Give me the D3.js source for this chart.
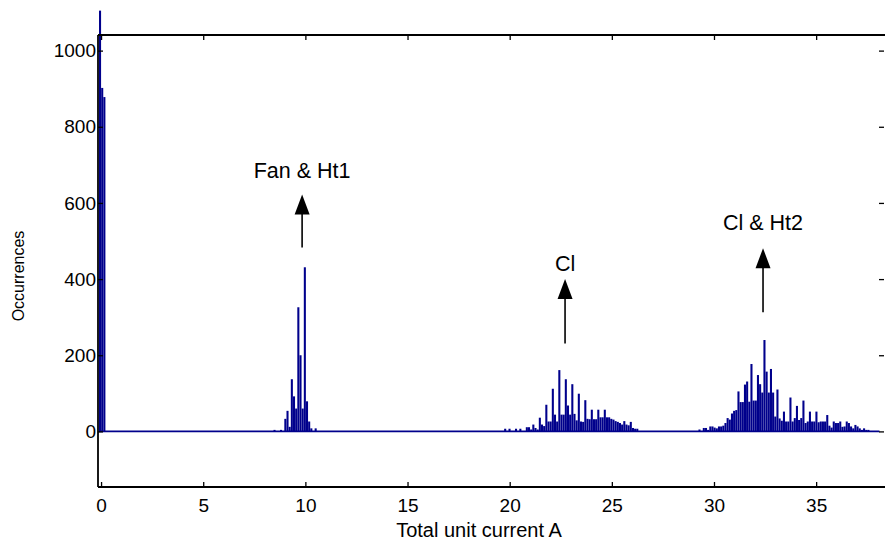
<!DOCTYPE html>
<html>
<head>
<meta charset="utf-8">
<script src="https://cdn.jsdelivr.net/npm/d3@7"></script>
<style>
  html, body { margin: 0; padding: 0; background: #fff; }
  svg { display: block; }
  text { font-family: Arial, "Liberation Sans", Helvetica, sans-serif; fill: #000; }
</style>
</head>
<body>
<svg id="chart" width="885" height="542"></svg>
<script>
// Histogram of total unit current (A): bin width and counts per cluster.
const binWidth = 0.106;

// Idle bins around 0 A
const idleStart = -0.05;
const idleCounts = [1105, 902, 878];

// Fan & heater 1 cluster
const fanStart = 8.49;
const fanCounts = [4, 0, 0, 4, 0, 33, 54, 12, 137, 92, 60, 326, 200, 60, 431, 79, 26, 8, 0, 8];

// Cl cluster
const clStart = 19.78;
const clCounts = [
  7, 0, 7, 0, 0, 7, 0, 7, 0, 0, 11, 11, 5, 18, 9, 5, 36, 18, 14, 70,
  26, 26, 112, 44, 26, 161, 44, 44, 137, 68, 44, 124, 46, 29, 99, 26, 25, 82, 33, 32,
  57, 32, 32, 57, 37, 37, 57, 37, 37, 33, 31, 27, 25, 22, 18, 27, 18, 16, 25, 9,
  7, 7
];

// Cl & heater 2 cluster
const cl2Start = 29.29;
const cl2Counts = [
  5, 0, 9, 9, 4, 13, 13, 10, 8, 13, 13, 15, 22, 35, 31, 47, 54, 56, 105, 77,
  77, 123, 131, 78, 177, 81, 81, 148, 124, 102, 240, 157, 102, 164, 102, 39, 110, 34, 28, 52,
  26, 26, 89, 26, 35, 67, 30, 35, 81, 22, 26, 52, 26, 26, 52, 24, 26, 26, 26, 43,
  15, 10, 26, 22, 22, 26, 12, 13, 26, 22, 13, 8, 17, 13, 8, 4, 8, 4, 4
];

// Axis ticks
const xTicks = [0, 5, 10, 15, 20, 25, 30, 35];
const yTicks = [0, 200, 400, 600, 800, 1000];

// Annotations: label, x position (A), arrow tail and tip (counts), label baseline (counts)
const noteLabels = ["Fan & Ht1", "Cl", "Cl & Ht2"];
const noteX = [9.84, 22.71, 32.4];
const noteTail = [483, 231, 313];
const noteTip = [622, 400, 481];
const noteText = [665, 421, 528];

const svg = d3.select("#chart");
const padL = 98, padR = 885, padT = 35, padB = 487;

const x = d3.scaleLinear().domain([-0.15, 38.37]).range([padL, padR]);
const y = d3.scaleLinear().domain([-146, 1041]).range([padB, padT]);

const barColor = "#00008c";

function bins(start, counts) {
  return counts.map((c, i) => ({ x: start + i * binWidth, v: c })).filter(d => d.v > 0);
}
const allBins = [].concat(
  bins(idleStart, idleCounts),
  bins(fanStart, fanCounts),
  bins(clStart, clCounts),
  bins(cl2Start, cl2Counts)
);

// zero-count baseline drawn by the histogram outline
svg.append("line")
  .attr("x1", x(-0.1)).attr("x2", x(38.1))
  .attr("y1", y(0)).attr("y2", y(0))
  .attr("stroke", barColor).attr("stroke-width", 1.8);

const bw = x(binWidth) - x(0);
svg.append("g").selectAll("rect")
  .data(allBins)
  .join("rect")
  .attr("x", d => x(d.x - binWidth / 2) + 0.05)
  .attr("width", bw - 0.1)
  .attr("y", d => y(d.v))
  .attr("height", d => y(0) - y(d.v))
  .attr("fill", barColor);

// Axes box
const axisColor = "#000";
const bottomAxis = d3.axisBottom(x).tickValues(xTicks).tickSize(-5).tickPadding(12).tickFormat(d3.format("d"));
const leftAxis = d3.axisLeft(y).tickValues(yTicks).tickSize(-5).tickPadding(2).tickFormat(d3.format("d"));
const topAxis = d3.axisTop(x).tickValues(xTicks).tickSize(-5).tickFormat("");
const rightAxis = d3.axisRight(y).tickValues(yTicks).tickSize(-5).tickFormat("");

function styleAxis(g) {
  g.select(".domain").remove();
  g.selectAll(".tick line").attr("stroke", axisColor).attr("stroke-width", 1.3);
  g.selectAll("text").attr("font-size", 19).attr("fill", "#000")
    .attr("font-family", "Arial, 'Liberation Sans', sans-serif");
}

svg.append("g").attr("transform", `translate(0,${padB})`).call(bottomAxis).call(styleAxis);
svg.append("g").attr("transform", `translate(${padL},0)`).call(leftAxis).call(styleAxis);
svg.append("g").attr("transform", `translate(0,${padT})`).call(topAxis).call(styleAxis);
svg.append("g").attr("transform", `translate(${padR - 1},0)`).call(rightAxis).call(styleAxis);

// box lines
svg.append("line").attr("x1", padL).attr("x2", padR).attr("y1", padT).attr("y2", padT)
  .attr("stroke", axisColor).attr("stroke-width", 1.8);
svg.append("line").attr("x1", padL).attr("x2", padR).attr("y1", padB).attr("y2", padB)
  .attr("stroke", axisColor).attr("stroke-width", 1.8);
svg.append("line").attr("x1", padL).attr("x2", padL).attr("y1", padT).attr("y2", padB)
  .attr("stroke", axisColor).attr("stroke-width", 1.8);

// Axis titles
svg.append("text")
  .attr("x", 479).attr("y", 537)
  .attr("text-anchor", "middle").attr("font-size", 20)
  .text("Total unit current A");
svg.append("text")
  .attr("transform", `translate(24,276) rotate(-90)`)
  .attr("text-anchor", "middle").attr("font-size", 16)
  .text("Occurrences");

// Annotations with arrows
const notes = noteLabels.map((t, i) => ({ t, x: noteX[i], tail: noteTail[i], tip: noteTip[i], ty: noteText[i] }));
const ng = svg.append("g").selectAll("g").data(notes).join("g");
ng.append("line")
  .attr("x1", d => x(d.x)).attr("x2", d => x(d.x))
  .attr("y1", d => y(d.tail)).attr("y2", d => y(d.tip) + 18)
  .attr("stroke", "#000").attr("stroke-width", 1.6);
ng.append("path")
  .attr("d", d => {
    const px = x(d.x), py = y(d.tip);
    return `M${px},${py} L${px - 7.5},${py + 20} L${px + 7.5},${py + 20} Z`;
  })
  .attr("fill", "#000");
ng.append("text")
  .attr("x", d => x(d.x)).attr("y", d => y(d.ty))
  .attr("text-anchor", "middle").attr("font-size", 21.5)
  .text(d => d.t);
</script>
</body>
</html>
